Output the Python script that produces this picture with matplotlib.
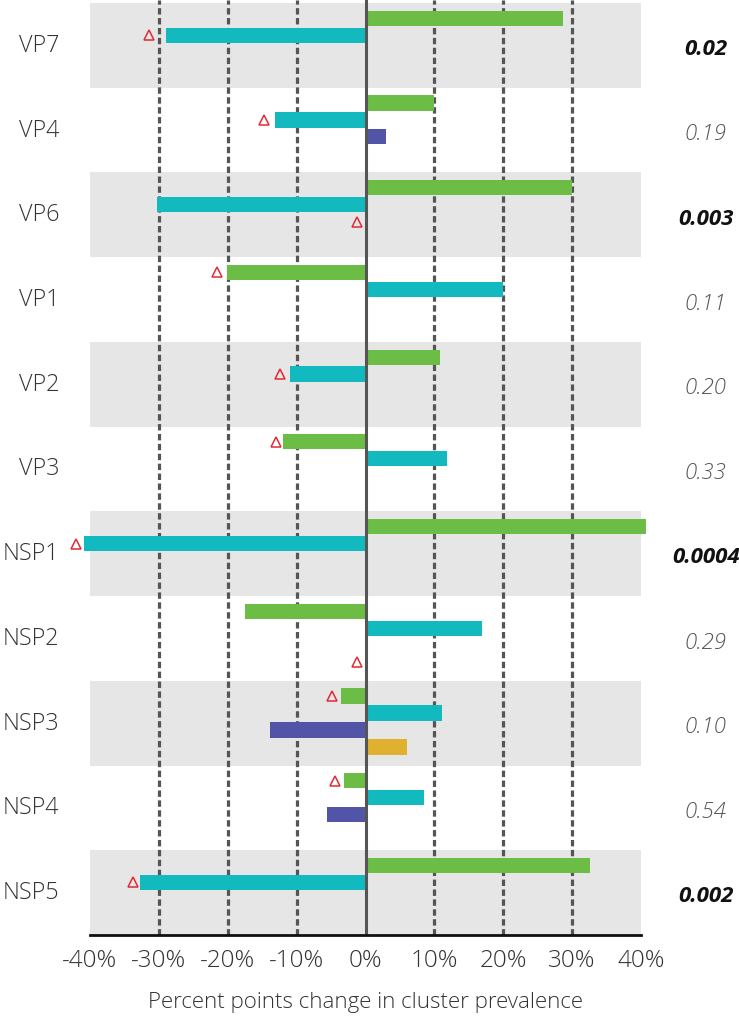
import matplotlib
matplotlib.use("Agg")
import matplotlib.pyplot as plt
import numpy as np

plt.rcParams["font.family"] = ["Open Sans", "DejaVu Sans"]

# Segments, top to bottom
segments = ["VP7", "VP4", "VP6", "VP1", "VP2", "VP3",
            "NSP1", "NSP2", "NSP3", "NSP4", "NSP5"]

# Percent points change per cluster (nan = no bar)
nan = np.nan
green = [28.7, 9.9, 30.0, -20.1, 10.8, -12.0, 40.7, -17.5, -3.6, -3.1, 32.6]
cyan = [-28.9, -13.2, -30.2, 19.9, -11.0, 11.8, -40.8, 16.9, 11.1, 8.5, -32.7]
purple = [nan, 3.0, nan, nan, nan, nan, nan, 0.4, -13.8, -5.6, nan]
yellow = [nan, nan, nan, nan, nan, nan, nan, nan, 6.0, nan, nan]

# Red triangle markers: (segment index, bar slot, value)
tri_segment = [0, 1, 2, 3, 4, 5, 6, 7, 8, 9, 10]
tri_slot = [1, 1, 2, 0, 1, 0, 1, 3, 0, 0, 1]
tri_value = [-31.4, -14.8, -1.3, -21.6, -12.4, -13.0, -42.0, -1.3, -4.9, -4.5, -33.8]

# p-values, significant ones shown bold
p_values = ["0.02", "0.19", "0.003", "0.11", "0.20", "0.33",
            "0.0004", "0.29", "0.10", "0.54", "0.002"]
p_significant = [True, False, True, False, False, False,
                 True, False, False, False, True]

xticks = [-40, -30, -20, -10, 0, 10, 20, 30, 40]

series = [green, cyan, purple, yellow]
colors = ["#6cbd45", "#12b9bf", "#5254a7", "#e0b12e"]
slot_offsets = [0.32, 0.12, -0.08, -0.28]
bar_h = 0.18

fig = plt.figure(figsize=(7.39, 10.16), dpi=100)
ax = fig.add_axes([90 / 739, 81 / 1016, 551 / 739, 935 / 1016])

n = len(segments)
centers = np.arange(n)[::-1]

# alternating grey bands
for i, c in enumerate(centers):
    if i % 2 == 0:
        ax.axhspan(c - 0.5, c + 0.5, color="#e6e6e6", zorder=0, lw=0)

for x in [-30, -20, -10, 10, 20, 30]:
    ax.axvline(x, color="#555555", lw=2.3, ls=(0, (2.0, 1.1)), zorder=1)

for vals, col, off in zip(series, colors, slot_offsets):
    vals = np.array(vals, dtype=float)
    m = ~np.isnan(vals)
    ax.barh(centers[m] + off, vals[m], height=bar_h, color=col,
            zorder=2, clip_on=False)

ty = [centers[s] + slot_offsets[k] for s, k in zip(tri_segment, tri_slot)]
ax.plot(tri_value, ty, ls="none", marker="^", markersize=7,
        markerfacecolor="none", markeredgecolor="#e02b35",
        markeredgewidth=1.1, zorder=3, clip_on=False)

ax.axvline(0, color="#555555", lw=2.2, zorder=4)

for c, p, sig in zip(centers, p_values, p_significant):
    ax.text(49.4, c - 0.05, p, ha="center", va="center", fontsize=16,
            style="italic", fontweight="bold" if sig else "light",
            color="#111111" if sig else "#555555", clip_on=False)

ax.set_xlim(-40, 40)
ax.set_ylim(-0.5, n - 0.5 + 0.035)
ax.set_yticks(centers + 0.03)
ax.set_yticklabels(segments, fontsize=16.8, fontweight="light", color="#333333")
ax.tick_params(axis="y", length=0, pad=22)
ax.set_xticks(xticks)
ax.set_xticklabels([f"{t}%" for t in xticks], fontsize=17.5,
                   fontweight="light", color="#333333")
ax.tick_params(axis="x", length=0, pad=10)
ax.set_xlabel("Percent points change in cluster prevalence", fontsize=16,
              fontweight="light", color="#333333", labelpad=14)

for s in ["top", "right", "left"]:
    ax.spines[s].set_visible(False)
ax.spines["bottom"].set_color("#111111")
ax.spines["bottom"].set_linewidth(2)
ax.spines["bottom"].set_zorder(5)

fig.savefig("out.png", dpi=100)
